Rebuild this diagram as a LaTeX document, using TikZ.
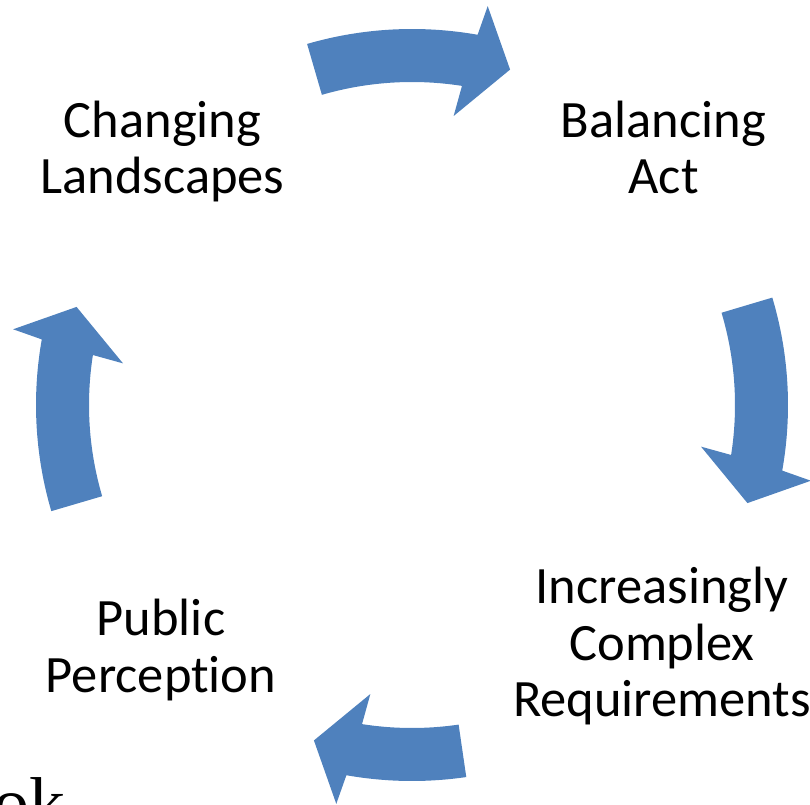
\documentclass[tikz,border=0pt]{standalone}
\usepackage{fontspec}
\setmainfont{Carlito}[Ligatures=NoCommon]
\newfontfamily\serifcut{Liberation Serif}
\definecolor{arrowblue}{RGB}{79,129,189}
\tikzset{
  lbl/.style={align=center, inner sep=0pt, anchor=base, font=\fontsize{52.5}{56.5}\selectfont},
  cyc/.style={fill=arrowblue, draw=none}
}
% #1 centre angle, #2 tail offset
\newcommand{\cycarrow}[2]{%
  \fill[cyc] (#1+#2:376pt) arc[start angle={#1+#2}, end angle={#1-10.05}, radius=376pt]
    -- (#1-10.75:406pt) -- (#1-16.3:349.5pt) -- (#1-8.2:292pt) -- (#1-8.9:323pt)
    arc[start angle={#1-8.9}, end angle={#1+#2}, radius=323pt] -- cycle;}
\begin{document}
\begin{tikzpicture}
\useasboundingbox (0,0) rectangle (810pt,804pt);
\begin{scope}[shift={(412pt,399pt)}]
  \cycarrow{90}{16.2}
  \cycarrow{0}{16.6}
  \cycarrow{-90}{8.3}
  \cycarrow{180}{16.4}
\end{scope}
\node[lbl] (changing) at (162.5pt,610pt) {Changing\\Landscapes};
\node[lbl] (balancing) at (663.5pt,610pt) {Balancing\\Act};
\node[lbl] (increasing) at (662pt,87.3pt) {Increasingly\\Complex\\Requirements};
\node[lbl] (public) at (161pt,112pt) {Public\\Perception};
\node[inner sep=0pt, anchor=base west, font=\serifcut\fontsize{72}{72}\selectfont] (ok) at (-7pt,-23pt) {ok};
\end{tikzpicture}
\end{document}
